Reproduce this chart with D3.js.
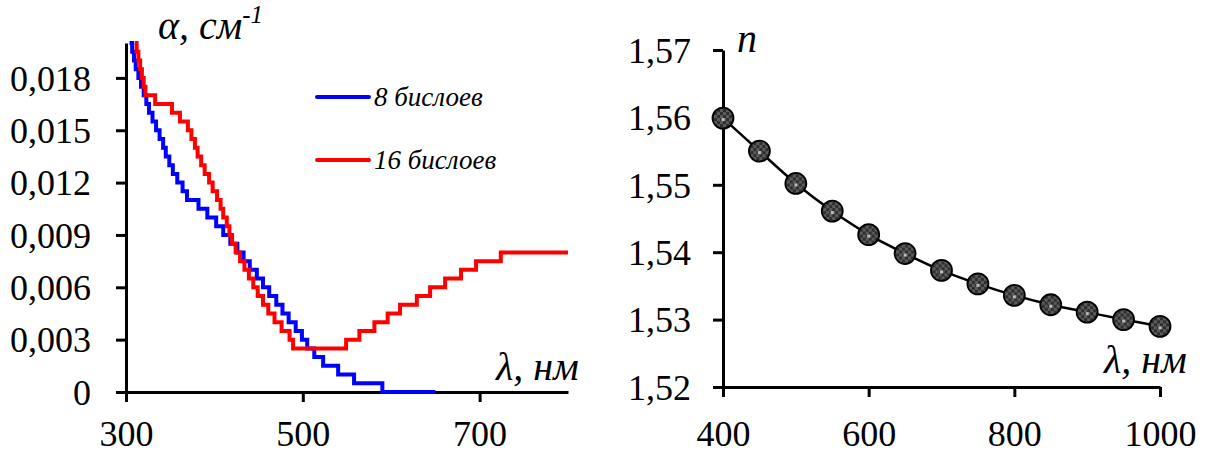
<!DOCTYPE html>
<html>
<head>
<meta charset="utf-8">
<script src="https://cdn.jsdelivr.net/npm/d3@7"></script>
<style>
  html, body { margin: 0; padding: 0; background: #fff; }
  svg { display: block; }
  text { font-family: "Liberation Serif", "Times New Roman", serif; fill: #000; }
</style>
</head>
<body>
<svg id="chart" width="1213" height="455"></svg>
<script>
// Absorption coefficient (step data, value holds from each wavelength onward)
const lambda8 = [304, 307, 309, 311, 314, 317, 320, 323, 326, 330, 334, 338, 342, 345, 349, 353,
  358, 364, 369, 382, 392, 402, 410, 418, 426, 433, 440, 448, 455, 462, 470, 477, 484, 492, 499,
  505, 513, 523, 540, 558, 590, 650];
const alpha8 = [0.0200, 0.0195, 0.0190, 0.0185, 0.0180, 0.0175, 0.0170, 0.0165, 0.0160, 0.0155,
  0.0150, 0.0145, 0.0140, 0.0135, 0.0130, 0.0125, 0.0120, 0.0115, 0.0110, 0.0105, 0.0100, 0.0095,
  0.0090, 0.0085, 0.0080, 0.0075, 0.0070, 0.0065, 0.0060, 0.0055, 0.0050, 0.0045, 0.0040, 0.0035,
  0.0030, 0.0025, 0.0020, 0.0015, 0.0010, 0.0005, 0.0000, 0.0000];

const lambda16 = [310, 312, 314, 316, 318, 320, 322, 333, 352, 361, 370, 374, 378, 381, 385, 389,
  394, 398, 403, 407, 410, 414, 417, 420, 424, 429, 434, 439, 444, 449, 455, 461, 468, 476, 485,
  489, 549, 564, 581, 596, 610, 629, 644, 661, 679, 696, 724, 800];
const alpha16 = [0.0200, 0.0195, 0.0190, 0.0185, 0.0180, 0.0175, 0.0170, 0.0165, 0.0160, 0.0155,
  0.0150, 0.0145, 0.0140, 0.0135, 0.0130, 0.0125, 0.0120, 0.0115, 0.0110, 0.0105, 0.0100, 0.0095,
  0.0090, 0.0085, 0.0080, 0.0075, 0.0070, 0.0065, 0.0060, 0.0055, 0.0050, 0.0045, 0.0040, 0.0035,
  0.0030, 0.0025, 0.0030, 0.0035, 0.0040, 0.0045, 0.0050, 0.0055, 0.0060, 0.0065, 0.0070, 0.0075,
  0.0080, 0.0080];

const alphaTicks = [0, 0.003, 0.006, 0.009, 0.012, 0.015, 0.018];
const alphaTickLabels = ["0", "0,003", "0,006", "0,009", "0,012", "0,015", "0,018"];
const lambdaTicksLeft = [300, 500, 700];
const seriesNames = ["8 бислоев", "16 бислоев"];

// Refractive index
const lambdaN = [400, 450, 500, 550, 600, 650, 700, 750, 800, 850, 900, 950, 1000];
const nValues = [1.5599, 1.5550, 1.5502, 1.5461, 1.5426, 1.5398, 1.5373, 1.5353, 1.5336, 1.5322,
  1.5311, 1.5300, 1.5290];
const nTicks = [1.52, 1.53, 1.54, 1.55, 1.56, 1.57];
const nTickLabels = ["1,52", "1,53", "1,54", "1,55", "1,56", "1,57"];
const lambdaTicksRight = [400, 600, 800, 1000];

const svg = d3.select("#chart");
const AX_W = 3, TICK = 10, FONT = 36, TITLE = 40;

function styleAxis(g) {
  g.select(".domain").attr("stroke", "#000").attr("stroke-width", AX_W);
  g.selectAll(".tick line").attr("stroke", "#000").attr("stroke-width", AX_W);
  g.selectAll(".tick text").style("font-size", FONT + "px");
}

// ---------- Left panel: absorption ----------
const xA = d3.scaleLinear().domain([300, 800]).range([126, 568]);
const yA = d3.scaleLinear().domain([0, 0.020]).range([392, 43]);

const gL = svg.append("g");

gL.append("g")
  .attr("transform", `translate(0,${yA(0)})`)
  .call(d3.axisBottom(xA).tickValues(lambdaTicksLeft).tickSize(TICK).tickSizeOuter(0)
        .tickFormat(d3.format("d")))
  .call(styleAxis)
  .call(g => g.selectAll(".tick text").attr("dy", "0.71em").attr("y", 28));

gL.append("g")
  .attr("transform", `translate(${xA(300)},0)`)
  .call(d3.axisLeft(yA).tickValues(alphaTicks).tickSize(TICK).tickSizeOuter(0)
        .tickFormat((d, i) => alphaTickLabels[i]))
  .call(styleAxis)
  .call(g => g.selectAll(".tick text").attr("x", -35).attr("dy", "0.34em"));

const stepLine = d3.line().curve(d3.curveStepAfter);

gL.append("path")
  .attr("d", stepLine(lambda8.map((l, i) => [xA(l), yA(alpha8[i])])))
  .attr("fill", "none").attr("stroke", "#0000ff").attr("stroke-width", 4);

gL.append("path")
  .attr("d", stepLine(lambda16.map((l, i) => [xA(l), yA(alpha16[i])])))
  .attr("fill", "none").attr("stroke", "#ff0000").attr("stroke-width", 4);

// legend
const legendColors = ["#0000ff", "#ff0000"];
const legendY = [97, 160];
seriesNames.forEach((name, i) => {
  gL.append("line")
    .attr("x1", 317).attr("x2", 369).attr("y1", legendY[i]).attr("y2", legendY[i])
    .attr("stroke", legendColors[i]).attr("stroke-width", 4).attr("stroke-linecap", "round");
  gL.append("text")
    .attr("x", 374).attr("y", legendY[i] + 9)
    .style("font-size", "27px").style("font-style", "italic")
    .text(name);
});

// axis titles
const tA = gL.append("text").attr("x", 158).attr("y", 39)
  .style("font-size", TITLE + "px").style("font-style", "italic");
tA.append("tspan").text("α, см");
tA.append("tspan").attr("dy", -16).style("font-size", "25px").text("-1");

gL.append("text").attr("x", 496).attr("y", 380)
  .style("font-size", TITLE + "px").style("font-style", "italic").text("λ, нм");

// ---------- Right panel: refractive index ----------
const xN = d3.scaleLinear().domain([400, 1000]).range([723, 1160]);
const yN = d3.scaleLinear().domain([1.52, 1.57]).range([387, 50]);

const gR = svg.append("g");

gR.append("g")
  .attr("transform", `translate(0,${yN(1.52)})`)
  .call(d3.axisBottom(xN).tickValues(lambdaTicksRight).tickSize(TICK).tickSizeOuter(0)
        .tickFormat(d3.format("d")))
  .call(styleAxis)
  .call(g => g.selectAll(".tick text").attr("dy", "0.71em").attr("y", 33));

gR.append("g")
  .attr("transform", `translate(${xN(400)},0)`)
  .call(d3.axisLeft(yN).tickValues(nTicks).tickSize(TICK).tickSizeOuter(0)
        .tickFormat((d, i) => nTickLabels[i]))
  .call(styleAxis)
  .call(g => g.selectAll(".tick text").attr("x", -32).attr("dy", "0.34em"));

// marker fill: dark checker with a light core
const defs = svg.append("defs");
const pat = defs.append("pattern").attr("id", "checker")
  .attr("patternUnits", "userSpaceOnUse").attr("width", 6).attr("height", 6);
pat.append("rect").attr("width", 6).attr("height", 6).attr("fill", "#2e2e2e");
pat.append("rect").attr("width", 3).attr("height", 3).attr("fill", "#5c5c5c");
pat.append("rect").attr("x", 3).attr("y", 3).attr("width", 3).attr("height", 3).attr("fill", "#5c5c5c");

const smooth = d3.line().curve(d3.curveMonotoneX);
gR.append("path")
  .attr("d", smooth(lambdaN.map((l, i) => [xN(l), yN(nValues[i])])))
  .attr("fill", "none").attr("stroke", "#000").attr("stroke-width", 2.5);

const dots = gR.selectAll("g.dot").data(lambdaN).join("g").attr("class", "dot")
  .attr("transform", (l, i) => `translate(${xN(l)},${yN(nValues[i])})`);
dots.append("circle").attr("r", 10.5).attr("fill", "url(#checker)")
  .attr("stroke", "#000").attr("stroke-width", 1.8);
dots.append("rect").attr("x", -1.5).attr("y", 0).attr("width", 3).attr("height", 3).attr("fill", "#bbb");

gR.append("text").attr("x", 737).attr("y", 52)
  .style("font-size", TITLE + "px").style("font-style", "italic").text("n");

gR.append("text").attr("x", 1104).attr("y", 373)
  .style("font-size", TITLE + "px").style("font-style", "italic").text("λ, нм");
</script>
</body>
</html>
